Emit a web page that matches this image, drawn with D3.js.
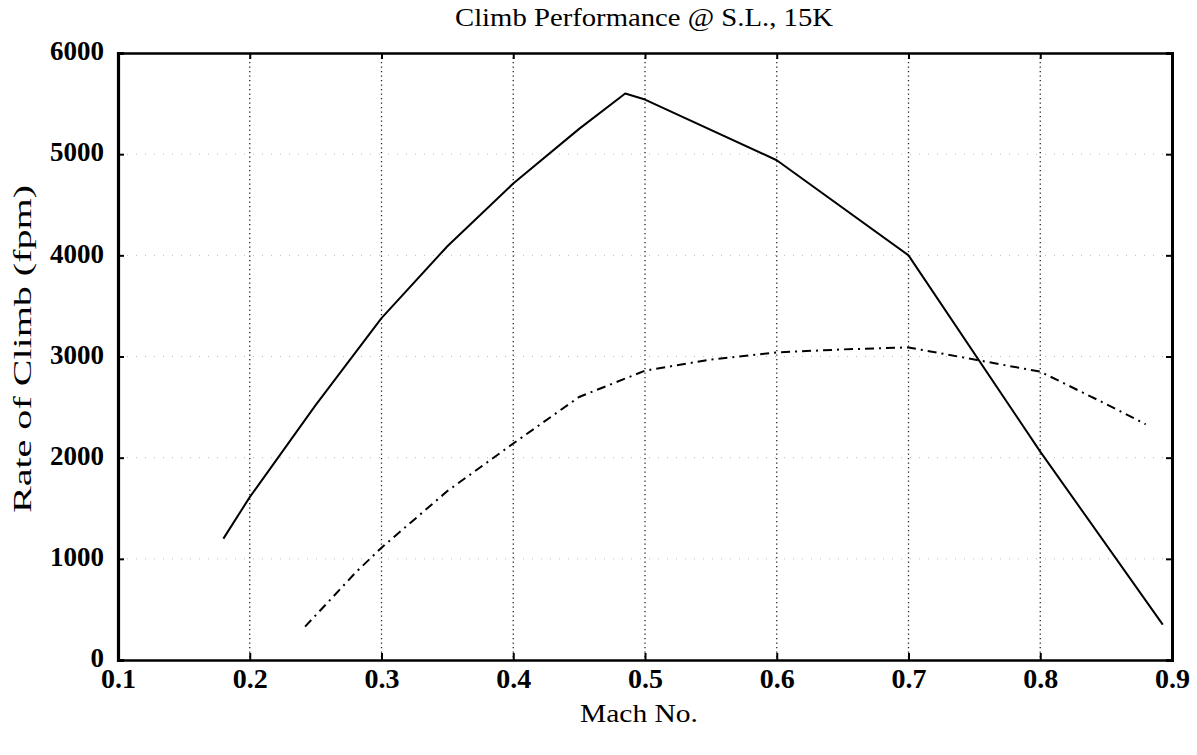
<!DOCTYPE html>
<html>
<head>
<meta charset="utf-8">
<script src="https://cdn.jsdelivr.net/npm/d3@7"></script>
<style>
  html, body { margin: 0; padding: 0; background: #fff; }
  svg { display: block; }
  text { font-family: "Times New Roman", "Liberation Serif", Tinos, Times, serif; fill: #000; }
</style>
</head>
<body>
<svg id="chart" width="1197" height="755"></svg>
<script>
// Rate of climb vs Mach number, sea level and 15,000 ft
const machSL = [0.18, 0.2, 0.25, 0.3, 0.35, 0.4, 0.45, 0.485, 0.5, 0.6, 0.7, 0.8, 0.893];
const rocSL  = [1200, 1610, 2520, 3380, 4090, 4710, 5250, 5600, 5540, 4940, 4000, 2060, 350];

const mach15K = [0.242, 0.26, 0.28, 0.3, 0.35, 0.4, 0.45, 0.5, 0.55, 0.6, 0.65, 0.7, 0.75, 0.8, 0.85, 0.88];
const roc15K  = [330, 580, 860, 1110, 1670, 2140, 2600, 2860, 2970, 3040, 3070, 3090, 2970, 2850, 2530, 2330];

const xTicks = [0.1, 0.2, 0.3, 0.4, 0.5, 0.6, 0.7, 0.8, 0.9];
const yTicks = [0, 1000, 2000, 3000, 4000, 5000, 6000];

const titleText = "Climb Performance @ S.L., 15K";
const xLabel = "Mach No.";
const yLabel = "Rate of Climb (fpm)";

const svg = d3.select("#chart");
const plotL = 118, plotR = 1172, plotT = 53, plotB = 660;

const x = d3.scaleLinear().domain([0.1, 0.9]).range([plotL, plotR]);
const y = d3.scaleLinear().domain([0, 6000]).range([plotB, plotT]);

// grid: faint horizontal dots, darker vertical dotted lines
const grid = svg.append("g");
grid.selectAll("line.hg").data(yTicks.slice(1, -1)).join("line")
  .attr("x1", plotL).attr("x2", plotR)
  .attr("y1", d => y(d)).attr("y2", d => y(d))
  .attr("stroke", "#bbb").attr("stroke-width", 1)
  .attr("stroke-dasharray", "1,8");
grid.selectAll("line.vg").data(xTicks.slice(1, -1)).join("line")
  .attr("x1", d => x(d)).attr("x2", d => x(d))
  .attr("y1", plotT).attr("y2", plotB)
  .attr("stroke", "#222").attr("stroke-width", 1.3)
  .attr("stroke-dasharray", "1.3,3.2");

// axes with inward ticks
const fmtX = d3.format(".1f");
const axB = svg.append("g").attr("transform", `translate(0,${plotB})`)
  .call(d3.axisBottom(x).tickValues(xTicks).tickSize(-7).tickPadding(22).tickFormat(fmtX));
const axT = svg.append("g").attr("transform", `translate(0,${plotT})`)
  .call(d3.axisTop(x).tickValues(xTicks).tickSize(-6).tickFormat(""));
const axL = svg.append("g").attr("transform", `translate(${plotL},0)`)
  .call(d3.axisLeft(y).tickValues(yTicks).tickSize(-6).tickPadding(14).tickFormat(d3.format("d")));
const axR = svg.append("g").attr("transform", `translate(${plotR},0)`)
  .call(d3.axisRight(y).tickValues(yTicks).tickSize(-6).tickFormat(""));

[axB, axT, axL, axR].forEach(a => {
  a.attr("font-family", null);
  a.select(".domain").attr("stroke", "#000").attr("stroke-width", 2.4);
  a.selectAll(".tick line").attr("stroke", "#000").attr("stroke-width", 2);
});
axL.select(".domain").attr("stroke-width", 3.2);
axR.select(".domain").attr("stroke-width", 3);

axB.selectAll(".tick text")
  .attr("font-size", 28).attr("font-weight", "bold")
  .attr("dy", "0.2em");
axL.selectAll(".tick text")
  .attr("font-size", 27).attr("font-weight", "bold")
  .attr("dy", "0.25em");

// series lines
const line = d3.line().x(d => x(d[0])).y(d => y(d[1]));
svg.append("path")
  .datum(d3.zip(machSL, rocSL))
  .attr("d", line)
  .attr("fill", "none").attr("stroke", "#000").attr("stroke-width", 2)
  .attr("stroke-linejoin", "round");
svg.append("path")
  .datum(d3.zip(mach15K, roc15K))
  .attr("d", line)
  .attr("fill", "none").attr("stroke", "#000").attr("stroke-width", 2)
  .attr("stroke-dasharray", "9,5,2,5");

// titles
svg.append("text")
  .attr("x", 644).attr("y", 26)
  .attr("text-anchor", "middle")
  .attr("font-size", 26)
  .attr("textLength", 378).attr("lengthAdjust", "spacingAndGlyphs")
  .text(titleText);

svg.append("text")
  .attr("x", 639).attr("y", 722)
  .attr("text-anchor", "middle")
  .attr("font-size", 26)
  .attr("textLength", 118).attr("lengthAdjust", "spacingAndGlyphs")
  .text(xLabel);

svg.append("text")
  .attr("transform", "translate(31,349) rotate(-90)")
  .attr("text-anchor", "middle")
  .attr("font-size", 25)
  .attr("textLength", 328).attr("lengthAdjust", "spacingAndGlyphs")
  .text(yLabel);
</script>
</body>
</html>
